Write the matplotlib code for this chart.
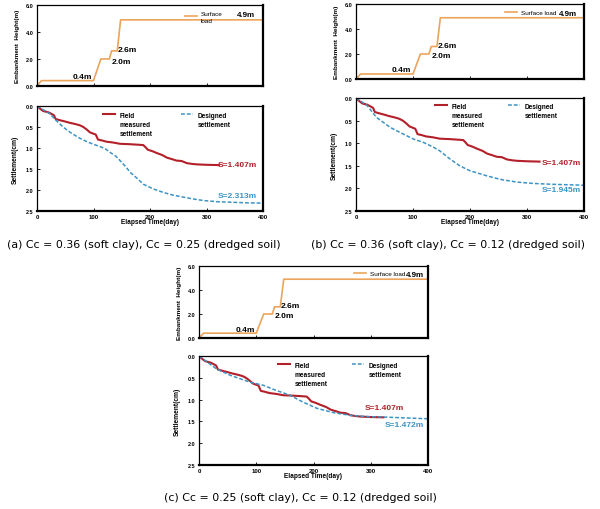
import numpy as np
import matplotlib.pyplot as plt
from matplotlib.lines import Line2D
from matplotlib.legend import Legend

plt.rcParams['font.family'] = ['Liberation Sans', 'DejaVu Sans']

# embankment (surface load) history
emb_t = [0, 8, 100, 113, 128, 132, 142, 148, 400]
emb_h = [0, 0.4, 0.4, 2.0, 2.0, 2.6, 2.6, 4.9, 4.9]

# field measured settlement (same for all three cases)
field_t = [0, 5, 11, 20, 26, 30, 33, 41, 50, 58, 68, 76, 82, 88, 94, 100, 104, 108,
           115, 123, 135, 147, 165, 188, 192, 196, 205, 212, 222, 230, 240, 247,
           256, 265, 275, 283, 300, 322]
field_s = [0, 0.06, 0.12, 0.15, 0.19, 0.22, 0.31, 0.34, 0.37, 0.40, 0.43, 0.46, 0.50,
           0.56, 0.63, 0.66, 0.68, 0.80, 0.82, 0.85, 0.87, 0.90, 0.91, 0.93, 0.98,
           1.04, 1.08, 1.12, 1.17, 1.23, 1.27, 1.30, 1.31, 1.36, 1.38, 1.39, 1.40, 1.407]

# designed settlement for each case
des_a_t = [0, 10, 23, 35, 47, 60, 76, 90, 106, 120, 129, 140, 147, 156, 165, 177, 188,
           205, 224, 240, 259, 275, 294, 320, 342, 370, 400]
des_a_s = [0, 0.08, 0.19, 0.36, 0.51, 0.64, 0.77, 0.86, 0.94, 1.01, 1.10, 1.20, 1.30,
           1.43, 1.58, 1.72, 1.86, 1.97, 2.06, 2.12, 2.17, 2.21, 2.25, 2.28, 2.29, 2.305, 2.313]

des_b_t = [0, 19, 36, 60, 77, 101, 118, 136, 147, 165, 182, 200, 229, 253, 282, 311, 346, 400]
des_b_s = [0, 0.16, 0.43, 0.65, 0.76, 0.91, 0.98, 1.09, 1.17, 1.35, 1.50, 1.61, 1.72,
           1.80, 1.86, 1.89, 1.91, 1.93]

des_c_t = [0, 30, 54, 89, 112, 135, 159, 182, 206, 235, 264, 293, 322, 400]
des_c_s = [0, 0.29, 0.44, 0.60, 0.67, 0.79, 0.90, 1.06, 1.20, 1.30, 1.36, 1.39, 1.40, 1.44]

captions = ['(a) Cc = 0.36 (soft clay), Cc = 0.25 (dredged soil)',
            '(b) Cc = 0.36 (soft clay), Cc = 0.12 (dredged soil)',
            '(c) Cc = 0.25 (soft clay), Cc = 0.12 (dredged soil)']
final_labels = ['S=2.313m', 'S=1.945m', 'S=1.472m']
load_labels = ['Surface\nload', 'Surface load', 'Surface load']

W, H = 600, 510
ORANGE = '#EBA45A'
RED = '#B3202A'
BLUE = '#3C93C4'
DASH = (0, (2.5, 1.3))


def px_axes(fig, x0, y0, x1, y1):
    return fig.add_axes([x0 / W, 1 - y1 / H, (x1 - x0) / W, (y1 - y0) / H])


def style(ax, xsize):
    for side in ['top', 'left']:
        ax.spines[side].set_linewidth(0.9)
    for side in ['bottom', 'right']:
        ax.spines[side].set_linewidth(1.6)
    ax.tick_params(direction='in', length=2, width=0.6, labelsize=4, pad=2.5)
    ax.tick_params(axis='x', labelsize=xsize, pad=2)
    for lab in ax.get_xticklabels() + ax.get_yticklabels():
        lab.set_fontweight('bold')


def pix_legend(ax, handle, label, px, py, size, bold=False, top=False):
    # one-entry legend whose handle starts near pixel (px, py)
    pos = ax.get_position()
    fs_px = size * 100 / 72
    ax_x = (px - fs_px * 0.4 - pos.x0 * W) / (pos.width * W)
    ax_y = 1 - (py - fs_px * 0.9 - (1 - pos.y1) * H) / (pos.height * H)
    leg = Legend(ax, [handle], [label], loc='upper left', bbox_to_anchor=(ax_x, ax_y),
                 frameon=False, handlelength=1.9, handletextpad=0.6, borderaxespad=0,
                 prop=dict(size=size, weight='bold' if bold else 'normal'))
    for t in leg.get_texts():
        t.set_linespacing(1.45)
    if top:
        for col in leg._legend_handle_box.get_children():
            for row in col.get_children():
                row.align = 'top'
    ax.add_artist(leg)
    return leg


def draw_panel(fig, box, des_t, des_s, cfg):
    x0, x1, ty0, ty1, by0, by1 = box
    # embankment height
    ax1 = px_axes(fig, x0, ty0, x1, ty1)
    ax1.plot(emb_t, emb_h, color=ORANGE, lw=1.2)
    ax1.set_xlim(0, 400)
    ax1.set_ylim(0, 6)
    ax1.set_xticks([0, 100, 200, 300, 400])
    ax1.set_xticklabels([])
    ax1.set_yticks([0, 2, 4, 6])
    ax1.set_yticklabels(['0.0', '2.0', '4.0', '6.0'])
    ax1.set_ylabel('Embankment  Height(m)', fontsize=4.6, fontweight='bold', labelpad=4)
    style(ax1, 4)
    pix_legend(ax1, Line2D([], [], color=ORANGE, lw=1.2), cfg['load'],
               cfg['leg1'][0], cfg['leg1'][1], 4.6)
    tf = dict(fontsize=6, fontweight='bold')
    ax1.text(97, cfg['h04'], '0.4m', ha='right', va='center', **tf)
    ax1.text(133, 1.85, '2.0m', ha='left', va='center', **tf)
    ax1.text(143, 2.68, '2.6m', ha='left', va='center', **tf)
    ax1.text(cfg['x49'], cfg['h49'], '4.9m', ha='left', va='center', fontsize=5.8,
             fontweight='bold')

    # settlement
    ax2 = px_axes(fig, x0, by0, x1, by1)
    ax2.plot(field_t, field_s, color=RED, lw=1.5)
    ax2.plot(des_t, des_s, color=BLUE, lw=1.1, ls=DASH)
    ax2.set_xlim(0, 400)
    ax2.set_ylim(2.5, 0)
    ax2.set_xticks([0, 100, 200, 300, 400])
    ax2.set_yticks([0, 0.5, 1.0, 1.5, 2.0, 2.5])
    ax2.set_yticklabels(['0.0', '0.5', '1.0', '1.5', '2.0', '2.5'])
    ax2.set_xlabel('Elapsed Time(day)', fontsize=4.7, fontweight='bold', labelpad=-0.5)
    ax2.set_ylabel('Settlement(cm)', fontsize=4.8, fontweight='bold', labelpad=5)
    style(ax2, 4.3)
    pix_legend(ax2, Line2D([], [], color=RED, lw=1.5), 'Field\nmeasured\nsettlement',
               cfg['leg_f'][0], cfg['leg_f'][1], 4.7, bold=True, top=True)
    pix_legend(ax2, Line2D([], [], color=BLUE, lw=1.1, ls=DASH), 'Designed\nsettlement',
               cfg['leg_d'][0], cfg['leg_d'][1], 4.7, bold=True, top=True)
    sf = dict(fontsize=6, fontweight='bold')
    ax2.text(cfg['sx1'], cfg['sy1'], 'S=1.407m', color=RED, ha='left', va='center', **sf)
    ax2.text(cfg['sx2'], cfg['sy2'], cfg['final'], color=BLUE, ha='left', va='center', **sf)

    fig.text(cfg['cap_x'] / W, 1 - cfg['cap_y'] / H, cfg['caption'],
             ha='center', va='center', fontsize=7.9, family=['DejaVu Sans'])


fig = plt.figure(figsize=(6, 5.1), dpi=100)

draw_panel(fig, (37, 263, 6, 87, 107, 212), des_a_t, des_a_s,
           dict(load=load_labels[0], leg1=(185, 15), h04=0.72, x49=354, h49=5.33,
                leg_f=(103, 116), leg_d=(181, 116), sx1=320, sy1=1.40, sx2=320, sy2=2.14,
                final=final_labels[0], caption=captions[0], cap_x=144, cap_y=245))
draw_panel(fig, (356, 584, 5, 80, 99, 212), des_b_t, des_b_s,
           dict(load=load_labels[1], leg1=(505, 14), h04=0.72, x49=356, h49=5.28,
                leg_f=(435, 107), leg_d=(508, 107), sx1=325, sy1=1.42, sx2=325, sy2=2.03,
                final=final_labels[1], caption=captions[1], cap_x=448, cap_y=245))
draw_panel(fig, (199, 428, 267, 339, 357, 466), des_c_t, des_c_s,
           dict(load=load_labels[2], leg1=(354, 275), h04=0.67, x49=362, h49=5.33,
                leg_f=(278, 366), leg_d=(352, 366), sx1=290, sy1=1.19, sx2=325, sy2=1.58,
                final=final_labels[2], caption=captions[2], cap_x=300, cap_y=498))

fig.savefig('out.png', dpi=100)
